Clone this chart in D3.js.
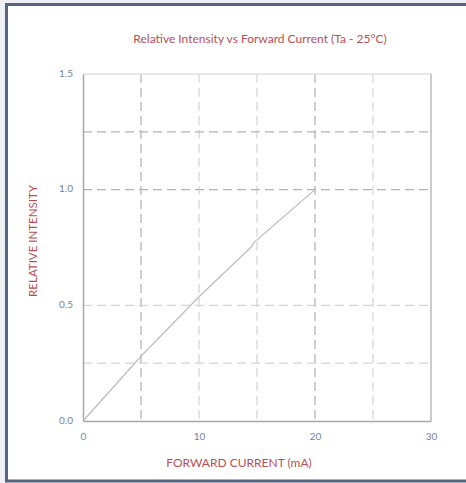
<!DOCTYPE html>
<html><head><meta charset="utf-8">
<script src="https://cdn.jsdelivr.net/npm/d3@7"></script>
<style>
html,body{margin:0;padding:0;background:#eef0f4;}
svg{display:block;}
text{font-family:Lato,"Noto Sans",sans-serif;}
</style></head>
<body>
<svg id="c" width="466" height="483"></svg>
<script>
const currentMA = [0, 5, 10, 14.5, 14.7, 20];
const intensity = [0, 0.28, 0.537, 0.752, 0.77, 1.0];
const xTicks = [0, 10, 20, 30];
const yTicks = [0, 0.5, 1.0, 1.5];
const xGrid = [5, 10, 15, 20, 25];
const xGridDark = [5, 20];
const yGrid = [0.25, 0.5, 1.0, 1.25];
const yGridDark = [1.0, 1.25];
const title = "Relative Intensity vs Forward Current (Ta - 25°C)";
const xTitle = "FORWARD CURRENT (mA)";
const yTitle = "RELATIVE INTENSITY";

const svg = d3.select("#c");
// frame
svg.append("rect").attr("x",6.5).attr("y",4.5).attr("width",470).attr("height",476.5)
  .attr("fill","#fff").attr("stroke","#56657f").attr("stroke-width",3);

const L=83,R=431,T=74,B=421;
const x = d3.scaleLinear().domain([0,30]).range([L,R]);
const y = d3.scaleLinear().domain([0,1.5]).range([B,T]);

// gridlines
svg.append("g").selectAll("line").data(xGrid).join("line")
  .attr("x1",d=>x(d)).attr("x2",d=>x(d)).attr("y1",T).attr("y2",B)
  .attr("stroke",d=>xGridDark.includes(d)?"#b4b4b4":"#d8d8d8").attr("stroke-width",1.3)
  .attr("stroke-dasharray","9,5");
svg.append("g").selectAll("line").data(yGrid).join("line")
  .attr("y1",d=>y(d)).attr("y2",d=>y(d)).attr("x1",L).attr("x2",R)
  .attr("stroke",d=>yGridDark.includes(d)?"#b4b4b4":"#d4d4d4").attr("stroke-width",1.3)
  .attr("stroke-dasharray","9,5");

// borders
svg.append("line").attr("x1",L).attr("x2",R).attr("y1",T).attr("y2",T).attr("stroke","#e0e0e0").attr("stroke-width",1.5);
svg.append("line").attr("x1",R).attr("x2",R).attr("y1",T).attr("y2",B).attr("stroke","#b0b0b0").attr("stroke-width",1.3);

// axes
const xAxis = svg.append("g").attr("transform",`translate(0,${B})`)
  .call(d3.axisBottom(x).tickValues(xTicks).tickSize(0).tickPadding(10).tickFormat(d3.format("d")));
const yAxis = svg.append("g").attr("transform",`translate(${L},0)`)
  .call(d3.axisLeft(y).tickValues(yTicks).tickSize(0).tickPadding(10).tickFormat(d3.format(".1f")));
[xAxis,yAxis].forEach(g=>{
  g.select(".domain").attr("stroke","#a8a8a8").attr("stroke-width",1.5);
  g.selectAll("text").attr("fill","#75829c").attr("font-size",10)
    .attr("font-family","Lato,'Noto Sans',sans-serif");
});
yAxis.selectAll("text").attr("dy","0.2em");
xAxis.selectAll("text").attr("dy","0.85em");

// line
svg.append("path").datum(currentMA.map((c,i)=>[c,intensity[i]]))
  .attr("d",d3.line().x(d=>x(d[0])).y(d=>y(d[1])))
  .attr("fill","none").attr("stroke","#bdbdbd").attr("stroke-width",1.2);

// titles
svg.append("text").attr("x",260).attr("y",43).attr("text-anchor","middle")
  .attr("fill","#b84f56").attr("font-size",12).text(title);
svg.append("text").attr("x",239).attr("y",467).attr("text-anchor","middle")
  .attr("fill","#b84f56").attr("font-size",12).text(xTitle);
svg.append("text").attr("transform","translate(37,241) rotate(-90)").attr("text-anchor","middle")
  .attr("fill","#b84f56").attr("font-size",11.5).text(yTitle);
</script>
</body></html>
